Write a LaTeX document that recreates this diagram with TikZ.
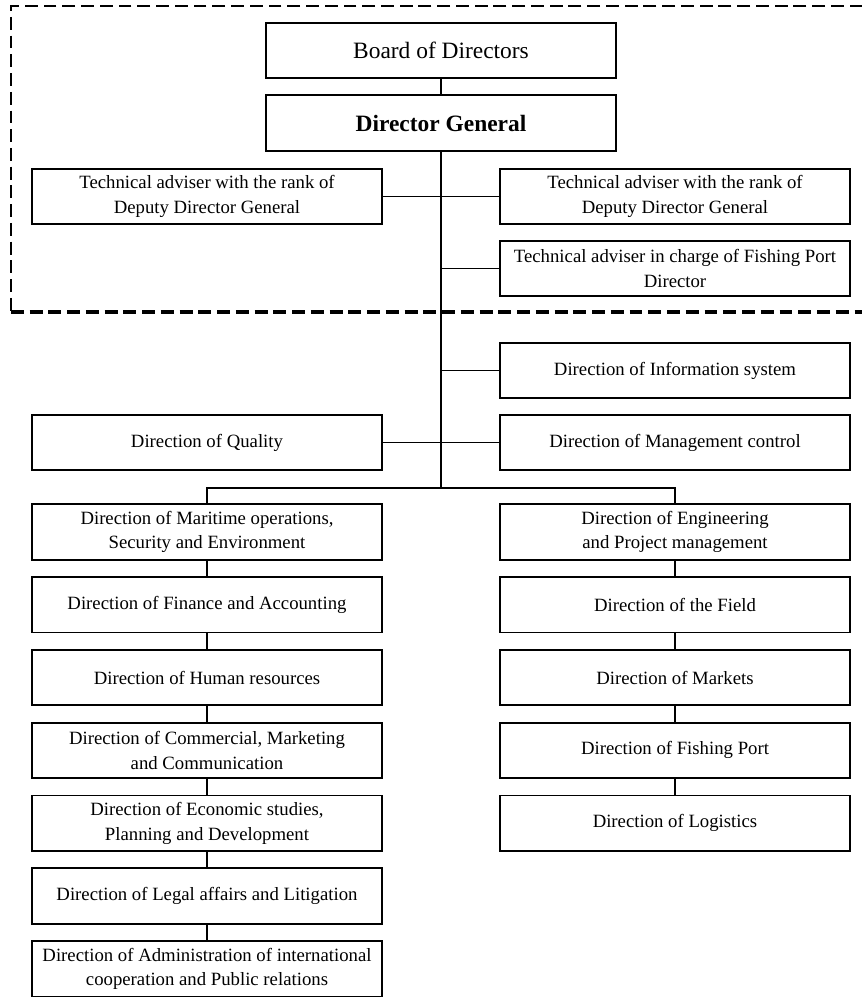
\documentclass[tikz,border=0pt]{standalone}
\usepackage{fontspec}
\setmainfont{Liberation Serif}
\usetikzlibrary{positioning}
\begin{document}
\begin{tikzpicture}[x=0.03cm,y=-0.03cm,line width=1.3pt,
	unit/.style={draw,line width=1.5pt,minimum width=10.5cm,minimum height=1.66cm,
		inner sep=0pt,align=center,font=\fontsize{16}{21}\selectfont},
	head/.style={unit,font=\fontsize{20}{24}\selectfont},
	frame/.style={line width=1.7pt,dash pattern=on 11pt off 5pt}]
\clip (0,0) rectangle (862,998);
\draw[frame] (900,6) -- (11,6) -- (11,312);
\draw[frame,line width=3pt] (11,312) -- (900,312);
\node[head] (board) at (441,50.5) {Board of Directors};
\node[head,font=\fontsize{20}{24}\selectfont\bfseries] (dg) at (441,123) {Director General};
\node[unit] (taL) at (207,196.5) {Technical adviser with the rank of\\Deputy Director General};
\node[unit] (taR) at (675,196.5) {Technical adviser with the rank of\\Deputy Director General};
\node[unit] (taF) at (675,268.5) {Technical adviser in charge of Fishing Port\\Director};
\node[unit] (info) at (675,370.5) {Direction of Information system};
\node[unit] (qual) at (207,442.5) {Direction of Quality};
\node[unit] (mgmt) at (675,442.5) {Direction of Management control};
\coordinate (bus) at (441,488);
\draw (board) -- (dg);
\draw (dg.south) -- (bus);
\draw (taL) -- (taR);
\draw (taF.west) -- (taF.west -| dg.south);
\draw (info.west) -- (info.west -| dg.south);
\draw (qual) -- (mgmt);
\foreach \t [count=\i] in {
	{Direction of Maritime operations,\\Security and Environment},
	{Direction of Finance and Accounting},
	{Direction of Human resources},
	{Direction of Commercial, Marketing\\and Communication},
	{Direction of Economic studies,\\Planning and Development},
	{Direction of Legal affairs and Litigation},
	{Direction of Administration of international\\cooperation and Public relations}} {
	\node[unit] (L\i) at (207,{532+72.8*(\i-1)}) {\t};
}
\foreach \t [count=\i] in {
	{Direction of Engineering\\and Project management},
	{Direction of the Field},
	{Direction of Markets},
	{Direction of Fishing Port},
	{Direction of Logistics}} {
	\node[unit] (R\i) at (675,{532+72.8*(\i-1)}) {\t};
}
\draw (L1.north) |- (bus) -| (R1.north);
\foreach \i [evaluate=\i as \j using int(\i+1)] in {1,...,6}
	\draw (L\i) -- (L\j);
\foreach \i [evaluate=\i as \j using int(\i+1)] in {1,...,4}
	\draw (R\i) -- (R\j);
\end{tikzpicture}
\end{document}
